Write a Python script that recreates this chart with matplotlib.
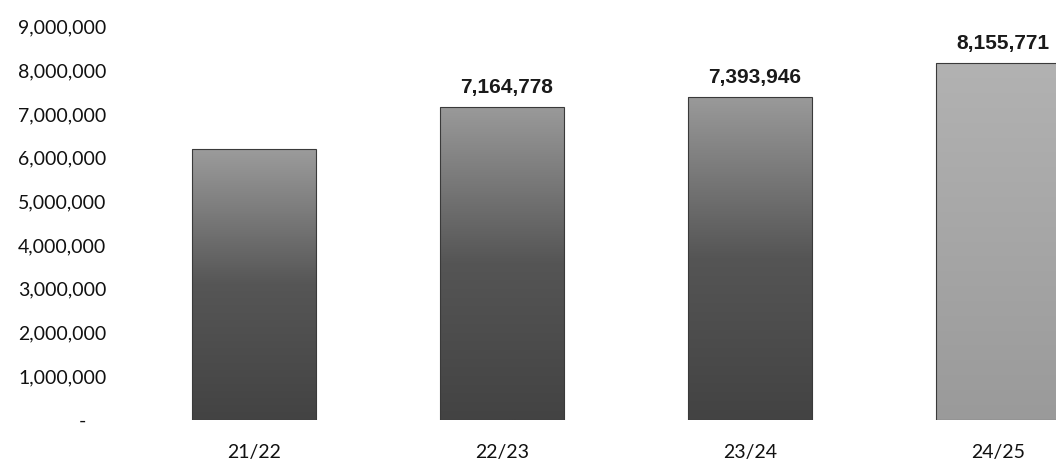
import matplotlib
matplotlib.use("Agg")
import matplotlib.pyplot as plt
import numpy as np
from matplotlib.colors import LinearSegmentedColormap
from matplotlib.ticker import FuncFormatter

categories = ["21/22", "22/23", "23/24", "24/25"]
values = [6200000, 7164778, 7393946, 8155771]
labels = ["", "7,164,778", "7,393,946", "8,155,771"]
y_ticks = [0, 1000000, 2000000, 3000000, 4000000, 5000000, 6000000, 7000000, 8000000, 9000000]

# gradient styles (bottom, middle, top colour) per bar
grad_styles = [("#434343", "#565656", "#9c9c9c"), ("#434343", "#555555", "#9a9a9a"),
               ("#434343", "#555555", "#9a9a9a"), ("#9a9a9a", "#a6a6a6", "#b2b2b2")]

W, H, DPI = 1056, 467, 100
fig = plt.figure(figsize=(W / DPI, H / DPI), dpi=DPI)
fig.patch.set_facecolor("white")
ax = fig.add_axes([130 / W, (H - 420) / H, (W - 130) / W, 400 / H])

x = np.arange(len(categories))
bars = ax.bar(x, values, width=0.5, color="none", edgecolor="none")

grad = np.linspace(0, 1, 256).reshape(-1, 1)
for rect, (c0, c1, c2) in zip(bars, grad_styles):
    cmap = LinearSegmentedColormap.from_list("g", [c0, c1, c2])
    x0 = rect.get_x()
    x1 = x0 + rect.get_width()
    h = rect.get_height()
    im = ax.imshow(grad, cmap=cmap, origin="lower", aspect="auto",
                   extent=(x0, x1, 0, h), zorder=2)
    im.set_clip_path(rect)
    ax.add_patch(plt.Rectangle((x0, 0), x1 - x0, h, fill=False,
                               edgecolor="#3a3a3a", linewidth=0.8, zorder=3))

for xi, v, lab in zip(x, values, labels):
    if lab:
        ax.text(xi + 0.02, v + 230000, lab, ha="center", va="bottom",
                fontsize=15, fontweight="bold", family="Liberation Sans",
                color="#1a1a1a")

ax.set_xlim(-0.5, 3.234)
ax.set_ylim(0, 9150000)
ax.set_yticks(y_ticks)
ax.yaxis.set_major_formatter(FuncFormatter(lambda v, p: "-    " if v == 0 else f"{int(v):,}"))
ax.set_xticks(x)
ax.set_xticklabels(categories)
for lab in ax.get_yticklabels() + ax.get_xticklabels():
    lab.set_family("Lato")
    lab.set_fontsize(14)
    lab.set_color("#111111")
ax.tick_params(axis="both", length=0)
ax.tick_params(axis="y", pad=17)
ax.tick_params(axis="x", pad=17)
for s in ax.spines.values():
    s.set_visible(False)

fig.savefig("out.png", dpi=DPI, facecolor="white")
